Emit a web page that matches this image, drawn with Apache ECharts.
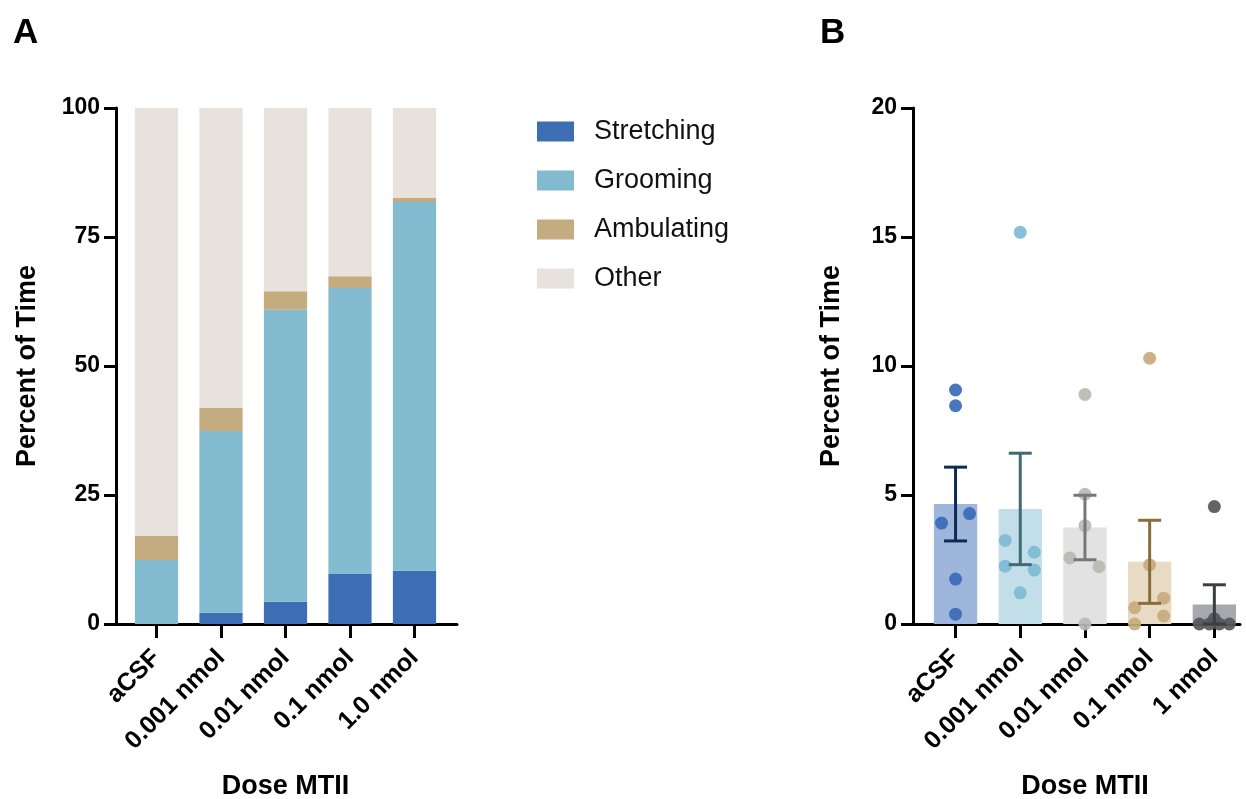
<!DOCTYPE html>
<html>
<head>
<meta charset="utf-8">
<script src="https://cdn.jsdelivr.net/npm/echarts@6/dist/echarts.min.js"></script>
<style>
  html, body { margin: 0; padding: 0; background: #fff; }
  #chart { width: 1246px; height: 799px; }
</style>
</head>
<body>
<div id="chart"></div>
<script>
// ---- data: panel A (stacked percent of time) ----
var dosesA = ['aCSF', '0.001 nmol', '0.01 nmol', '0.1 nmol', '1.0 nmol'];
var stretching = [0, 2.2, 4.3, 9.7, 10.3];
var grooming = [12.4, 35.2, 56.6, 55.4, 71.5];
var ambulating = [4.7, 4.5, 3.6, 2.3, 0.8];
var other = [82.9, 58.1, 35.5, 32.6, 17.4];

// ---- data: panel B (stretching, mean +/- SEM with individual points) ----
var dosesB = ['aCSF', '0.001 nmol', '0.01 nmol', '0.1 nmol', '1 nmol'];
var meansB = [4.65, 4.46, 3.74, 2.41, 0.76];
var semB = [1.43, 2.16, 1.25, 1.61, 0.76];
var pointsB = [
    [9.07, 8.46, 4.28, 3.91, 1.74, 0.38],
    [15.18, 3.24, 2.78, 2.24, 2.09, 1.21],
    [8.9, 5.03, 3.81, 2.56, 2.22, 0],
    [10.3, 2.29, 0.63, 1.0, 0.31, 0],
    [4.55, 0.2, 0, 0, 0, 0]
];

// layout of the scattered dots (px sideways shift), like prism does
var jitter = [
    [0, 0, 14, -14, 0, 0],
    [0, -15, 14, -15, 14, 0],
    [0, 0, 0, -15, 14, 0],
    [0, 0, -15, 14, 14, -15],
    [0, 0, -15, -5, 5, 15]
];

var colA = ['#3d6eb4', '#82bbd0', '#c4ab80', '#e7e2dc'];
var barColB = ['#9fb6dc', '#c2dfe9', '#e2e2e2', '#e8dbc3', '#a7a9ac'];
var dotColB = ['#3a6bb5', '#7fbbd1', '#bcb8b2', '#c6ab7c', '#55575b'];
var errColB = ['#0d2a55', '#3f6b73', '#777775', '#8a6d3f', '#3c3e42'];

var FONT = 'Liberation Sans, Arial, sans-serif';

var myChart = echarts.init(document.getElementById('chart'));

var lineStyle = { color: '#000', width: 3 };
var yTickLabel = { color: '#000', fontSize: 23, fontWeight: 'bold', fontFamily: FONT };
var xTickLabel = { color: '#000', fontSize: 25, fontWeight: 'bold', fontFamily: FONT };
var nameStyle = { color: '#000', fontSize: 27, fontWeight: 'bold', fontFamily: FONT };

function frameX(idx) {
    // plain axis line, a bit wider than the bars' grid
    return { gridIndex: idx, type: 'value', min: 0, max: 1,
        axisLine: { show: true, onZero: false, lineStyle: lineStyle },
        axisTick: { show: false }, axisLabel: { show: false }, splitLine: { show: false } };
}
function frameY(idx, max, step, gap) {
    return { gridIndex: idx, type: 'value', min: 0, max: max, interval: step,
        name: 'Percent of Time', nameLocation: 'middle', nameGap: gap, nameTextStyle: nameStyle,
        axisLine: { show: true, lineStyle: lineStyle },
        axisTick: { show: true, length: 12, lineStyle: lineStyle },
        axisLabel: Object.assign({ margin: 16 }, yTickLabel),
        splitLine: { show: false } };
}
function catX(idx, cats) {
    return { gridIndex: idx, type: 'category', data: cats,
        name: 'Dose MTII', nameLocation: 'middle', nameGap: 149, nameTextStyle: nameStyle,
        axisLine: { show: false },
        axisTick: { show: true, alignWithLabel: true, length: 14, lineStyle: lineStyle },
        axisLabel: Object.assign({ rotate: 45, margin: 30, interval: 0 }, xTickLabel),
        splitLine: { show: false } };
}
function hiddenY(idx, max) {
    return { gridIndex: idx, type: 'value', min: 0, max: max, show: false };
}
function box(left, width) {
    return { left: left, top: 108, width: width, height: 516, outerBoundsMode: 'none', containLabel: false };
}

// scatter points for panel B
var dots = [];
pointsB.forEach(function (vals, i) {
    vals.forEach(function (v, j) {
        dots.push({ value: [dosesB[i], v], symbolOffset: [jitter[i][j], 0],
            itemStyle: { color: dotColB[i] } });
    });
});
var errData = meansB.map(function (m, i) {
    return [i, Math.max(0, m - semB[i]), m + semB[i]];
});

var option = {
    animation: false,
    textStyle: { fontFamily: FONT },
    title: [
        { text: 'A', left: 8, top: 11, textStyle: { fontSize: 35, fontWeight: 'bold', color: '#000', fontFamily: FONT } },
        { text: 'B', left: 815, top: 11, textStyle: { fontSize: 35, fontWeight: 'bold', color: '#000', fontFamily: FONT } }
    ],
    legend: {
        data: ['Stretching', 'Grooming', 'Ambulating', 'Other'],
        orient: 'vertical', left: 537, top: 118, padding: 0,
        icon: 'rect', itemWidth: 37, itemHeight: 20, itemGap: 22,
        textStyle: { fontSize: 27, color: '#111', fontFamily: FONT, padding: [0, 0, 0, 15] }
    },
    grid: [box(116, 341), box(124.25, 322.5), box(913, 327), box(923.2, 323.5)],
    xAxis: [frameX(0), catX(1, dosesA), frameX(2), catX(3, dosesB)],
    yAxis: [frameY(0, 100, 25, 75), hiddenY(1, 100), frameY(2, 20, 5, 68), hiddenY(3, 20)],
    series: [
        { name: 'Stretching', type: 'bar', stack: 'A', xAxisIndex: 1, yAxisIndex: 1, barCategoryGap: '33%',
          itemStyle: { color: colA[0] }, data: stretching },
        { name: 'Grooming', type: 'bar', stack: 'A', xAxisIndex: 1, yAxisIndex: 1,
          itemStyle: { color: colA[1] }, data: grooming },
        { name: 'Ambulating', type: 'bar', stack: 'A', xAxisIndex: 1, yAxisIndex: 1,
          itemStyle: { color: colA[2] }, data: ambulating },
        { name: 'Other', type: 'bar', stack: 'A', xAxisIndex: 1, yAxisIndex: 1,
          itemStyle: { color: colA[3] }, data: other },

        { name: 'mean', type: 'bar', xAxisIndex: 3, yAxisIndex: 3, barCategoryGap: '33%',
          data: meansB.map(function (m, i) { return { value: m, itemStyle: { color: barColB[i] } }; }) },
        { name: 'points', type: 'scatter', xAxisIndex: 3, yAxisIndex: 3, symbolSize: 13, z: 3,
          itemStyle: { opacity: 0.92 }, data: dots },
        { name: 'sem', type: 'custom', xAxisIndex: 3, yAxisIndex: 3, z: 4, data: errData,
          renderItem: function (params, api) {
              var lo = api.coord([api.value(0), api.value(1)]);
              var hi = api.coord([api.value(0), api.value(2)]);
              var hw = 11.5;
              var st = { stroke: errColB[params.dataIndex], lineWidth: 3 };
              return { type: 'group', children: [
                  { type: 'line', shape: { x1: hi[0], y1: hi[1], x2: lo[0], y2: lo[1] }, style: st },
                  { type: 'line', shape: { x1: hi[0] - hw, y1: hi[1], x2: hi[0] + hw, y2: hi[1] }, style: st },
                  { type: 'line', shape: { x1: lo[0] - hw, y1: lo[1], x2: lo[0] + hw, y2: lo[1] }, style: st }
              ] };
          } }
    ]
};
myChart.setOption(option);
window.addEventListener('resize', function () { myChart.resize(); });
</script>
</body>
</html>
